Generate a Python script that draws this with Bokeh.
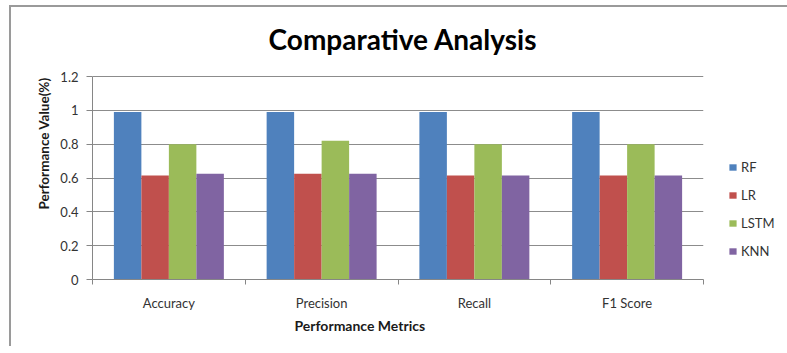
from bokeh.plotting import figure
from bokeh.models import (ColumnDataSource, FixedTicker, Legend, LegendItem, Title, Label)
from bokeh.embed import file_html
from bokeh.resources import INLINE

# Metrics compared across the four models
metrics = ["Accuracy", "Precision", "Recall", "F1 Score"]
models = ["RF", "LR", "LSTM", "KNN"]
rf_values = [0.99, 0.99, 0.99, 0.99]
lr_values = [0.615, 0.625, 0.615, 0.615]
lstm_values = [0.80, 0.82, 0.80, 0.80]
knn_values = [0.625, 0.625, 0.615, 0.615]
colors = ["#4F81BD", "#C0504D", "#9BBB59", "#8064A2"]
y_ticks = [0, 0.2, 0.4, 0.6, 0.8, 1.0, 1.2]
y_tick_labels = ["0", "0.2", "0.4", "0.6", "0.8", "1", "1.2"]
chart_title = "Comparative Analysis"

FONT = "Lato"
series = [rf_values, lr_values, lstm_values, knn_values]
bar_w = 0.18
offsets = [-1.5 * bar_w, -0.5 * bar_w, 0.5 * bar_w, 1.5 * bar_w]
centers = [i + 0.5 for i in range(len(metrics))]

# The plot area keeps 203 px for the 0..1.2 axis; 69 px of head room above it
# hold the chart title.
AXIS_H, HEAD_H, FRAME_W = 203, 69, 611
y_max = y_ticks[-1]
y_top = y_max * (AXIS_H + HEAD_H) / AXIS_H

p = figure(
    frame_width=FRAME_W, frame_height=AXIS_H + HEAD_H,
    min_border_left=81, min_border_top=0, min_border_right=76, min_border_bottom=67,
    x_range=(0, len(metrics)), y_range=(0, y_top),
    output_backend="svg", toolbar_location=None,
)
p.styles = {"margin-left": "9px", "margin-top": "5px",
            "border-left": "2px solid #9a9a9a", "border-top": "2px solid #9a9a9a"}
p.outline_line_color = None
p.background_fill_color = "white"
p.border_fill_color = "white"

items = []
for name, vals, off, col in zip(models, series, offsets, colors):
    src = ColumnDataSource(dict(x=[c + off for c in centers], top=vals))
    r = p.vbar(x="x", top="top", bottom=0, width=bar_w, source=src,
               fill_color=col, line_color=None)
    items.append(LegendItem(label=name, renderers=[r]))

# Chart title in the head room
p.add_layout(Label(x=FRAME_W / 2 + 5, y=AXIS_H + 38, x_units="screen", y_units="screen",
                   text=chart_title, text_align="center", text_baseline="middle",
                   text_font=FONT, text_font_size="28px", text_font_style="bold",
                   text_color="#000000"))

# x axis: labels at group centres, ticks on group boundaries
xa = p.xaxis[0]
xa.ticker = FixedTicker(ticks=centers, minor_ticks=list(range(len(metrics) + 1)))
xa.major_label_overrides = {c: m for c, m in zip(centers, metrics)}
xa.major_tick_out = 0
xa.major_tick_in = 0
xa.minor_tick_out = 5
xa.minor_tick_in = 0
xa.minor_tick_line_color = "#868686"
xa.axis_line_color = "#868686"
xa.major_label_text_font = FONT
xa.major_label_text_font_size = "13px"
xa.major_label_text_color = "#333333"
xa.major_label_standoff = 10
p.add_layout(Title(text="Performance Metrics", align="left", offset=202,
                   text_font=FONT, text_font_size="14px", text_font_style="bold",
                   text_color="#1a1a1a", standoff=2), "below")

# y axis
ya = p.yaxis[0]
ya.bounds = (0, y_max)
ya.ticker = FixedTicker(ticks=y_ticks)
ya.major_label_overrides = {t: s for t, s in zip(y_ticks, y_tick_labels)}
ya.major_tick_out = 6
ya.major_tick_in = 0
ya.minor_tick_line_color = None
ya.major_tick_line_color = "#868686"
ya.axis_line_color = "#868686"
ya.major_label_text_font = FONT
ya.major_label_text_font_size = "13px"
ya.major_label_text_color = "#333333"
ya.major_label_standoff = 8
ya.axis_label = "Performance Value(%)"
ya.axis_label_text_font = FONT
ya.axis_label_text_font_size = "13.5px"
ya.axis_label_text_font_style = "bold"
ya.axis_label_text_color = "#1a1a1a"
ya.axis_label_standoff = 5

p.xgrid.grid_line_color = None
p.ygrid.ticker = FixedTicker(ticks=y_ticks)
p.ygrid.grid_line_color = "#8c8c8c"
p.ygrid.grid_line_width = 1

legend = Legend(items=items, location=(25, 18), orientation="vertical",
                glyph_width=9, glyph_height=8, label_standoff=4,
                spacing=8, padding=0, margin=0,
                border_line_color=None, background_fill_alpha=0,
                label_text_font=FONT, label_text_font_size="13px",
                label_text_color="#333333", label_height=20)
p.add_layout(legend, "right")

open("out.html", "w").write(file_html(p, INLINE))
